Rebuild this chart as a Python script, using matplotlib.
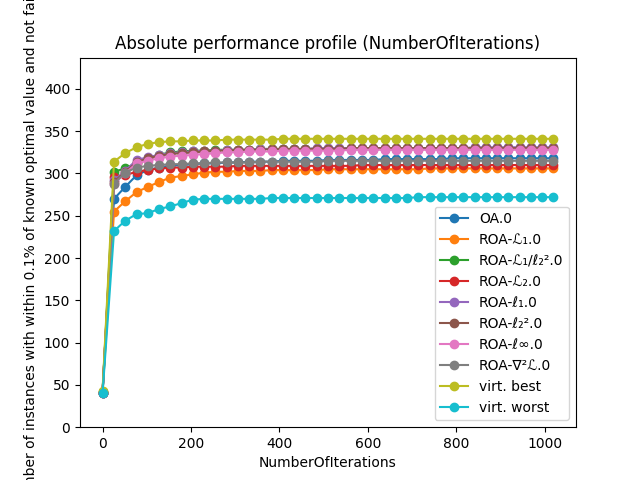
import matplotlib
matplotlib.use("Agg")
import matplotlib.pyplot as plt

# Iteration counts on the x axis
iterations = [0, 26, 51, 77, 102, 128, 153, 179, 204, 230, 255, 281, 306, 332, 357,
              383, 408, 434, 459, 485, 510, 536, 561, 587, 612, 638, 663, 689, 714,
              740, 765, 791, 816, 842, 867, 893, 918, 944, 969, 995, 1020]

oa = [40, 270, 284, 298, 304, 307, 309, 310, 311, 312, 312, 313, 313, 314, 314,
      314, 315, 315, 315, 315, 316, 316, 316, 316, 316, 317, 317, 317, 317, 317,
      317, 318, 318, 318, 318, 318, 318, 318, 318, 318, 318]
roa_L1 = [42, 255, 267, 278, 284, 290, 295, 297, 299, 301, 302, 302, 303, 303, 303,
          304, 304, 304, 304, 304, 305, 305, 305, 305, 305, 305, 305, 305, 305, 306,
          306, 306, 306, 306, 306, 306, 306, 306, 306, 306, 306]
roa_L1_l2sq = [42, 302, 306, 312, 318, 322, 325, 326, 327, 327, 328, 328, 328, 328, 329,
               329, 329, 329, 329, 329, 329, 329, 329, 329, 329, 329, 329, 329, 329, 329,
               329, 329, 329, 329, 329, 329, 329, 329, 329, 329, 329]
roa_L2 = [41, 296, 298, 302, 304, 306, 307, 307, 308, 308, 308, 308, 309, 309, 309,
          309, 309, 309, 309, 309, 309, 309, 309, 310, 310, 310, 310, 310, 310, 310,
          310, 310, 310, 310, 310, 310, 310, 310, 310, 310, 310]
roa_l1 = [41, 292, 303, 316, 319, 322, 324, 325, 326, 327, 327, 328, 328, 328, 329,
          329, 329, 329, 329, 330, 330, 330, 330, 330, 330, 330, 330, 330, 330, 330,
          330, 330, 330, 331, 331, 331, 331, 331, 331, 331, 331]
roa_l2sq = [41, 290, 302, 313, 318, 321, 323, 324, 325, 326, 327, 327, 328, 328, 328,
            329, 329, 329, 329, 329, 329, 329, 330, 330, 330, 330, 330, 330, 330, 330,
            330, 330, 330, 330, 330, 330, 330, 330, 330, 330, 330]
roa_linf = [41, 288, 300, 312, 315, 318, 320, 321, 322, 323, 324, 325, 325, 326, 326,
            326, 327, 327, 327, 327, 327, 327, 328, 328, 328, 328, 328, 328, 328, 328,
            328, 328, 328, 328, 328, 328, 328, 328, 328, 328, 328]
roa_hess = [41, 288, 301, 307, 309, 310, 311, 311, 312, 312, 313, 313, 313, 313, 314,
            314, 314, 314, 314, 314, 315, 315, 315, 315, 315, 315, 315, 315, 315, 315,
            315, 315, 315, 315, 315, 315, 315, 315, 315, 315, 315]
virt_best = [43, 314, 324, 331, 335, 337, 338, 338, 339, 339, 339, 340, 340, 340, 340,
             340, 341, 341, 341, 341, 341, 341, 341, 341, 341, 341, 341, 341, 341, 341,
             341, 341, 341, 341, 341, 341, 341, 341, 341, 341, 341]
virt_worst = [40, 232, 244, 252, 253, 258, 261, 265, 269, 270, 270, 270, 270, 270, 270,
              271, 271, 271, 271, 271, 271, 271, 271, 271, 271, 271, 271, 271, 272, 272,
              272, 272, 272, 272, 272, 272, 272, 272, 272, 272, 272]

labels = ["OA.0", "ROA-ℒ₁.0", "ROA-ℒ₁/ℓ₂².0", "ROA-ℒ₂.0", "ROA-ℓ₁.0",
          "ROA-ℓ₂².0", "ROA-ℓ∞.0", "ROA-∇²ℒ.0", "virt. best", "virt. worst"]
series = [oa, roa_L1, roa_L1_l2sq, roa_L2, roa_l1, roa_l2sq, roa_linf, roa_hess,
          virt_best, virt_worst]

fig, ax = plt.subplots(figsize=(6.4, 4.8), dpi=100)
for vals, lab in zip(series, labels):
    ax.plot(iterations, vals, marker='o', label=lab)

ax.set_ylim(0, 437)
ax.set_xlabel('NumberOfIterations')
ax.set_ylabel('Number of instances with within 0.1% of known optimal value and not failed')
ax.set_title('Absolute performance profile (NumberOfIterations)')
ax.legend(loc='lower right')
fig.savefig('out.png')
